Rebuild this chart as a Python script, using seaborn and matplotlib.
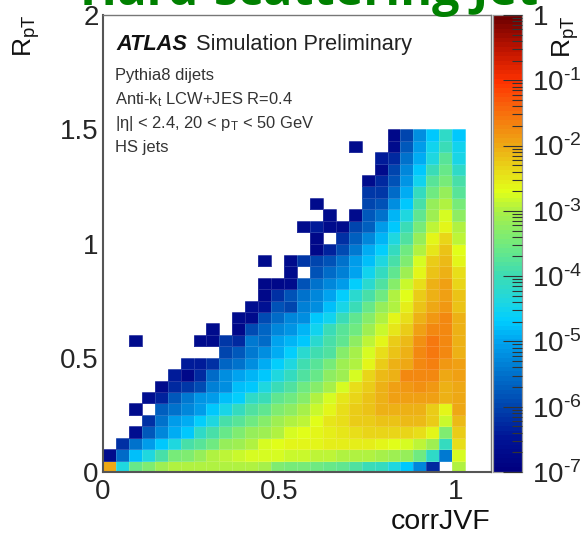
import numpy as np
import pandas as pd
import matplotlib
matplotlib.use("Agg")
import matplotlib.pyplot as plt
from matplotlib.colors import LinearSegmentedColormap, LogNorm
import seaborn as sns

# log10 of the bin content, one list per RpT bin (bottom row first), 28 corrJVF bins
_ = np.nan
row_00 = [-2.0,-4.4,-3.6,-3.4,-3.1,-3.0,-3.0,-3.0,-3.0,-3.0,-3.0,-3.0,-3.05,-3.4,-3.5,-3.5,-3.55,-3.6,-3.7,-3.8,-4.0,-4.1,-4.4,-4.7,-5.3,-6.3,_,-3.0]
row_01 = [-6.7,-5.6,-4.8,-4.4,-3.9,-3.5,-3.4,-3.2,-3.0,-2.9,-2.85,-2.8,-2.75,-2.75,-2.85,-2.85,-2.9,-2.9,-2.95,-2.95,-3.0,-3.05,-3.1,-3.2,-3.55,-4.2,-5.4,-2.75]
row_02 = [_,-6.2,-5.5,-5.1,-4.75,-4.35,-3.9,-3.75,-3.55,-3.2,-3.1,-2.95,-2.8,-2.7,-2.6,-2.6,-2.65,-2.55,-2.55,-2.55,-2.55,-2.65,-2.7,-2.75,-2.9,-3.1,-4.1,-2.4]
row_03 = [_,_,-6.6,-5.8,-5.3,-4.9,-4.7,-4.2,-3.9,-3.6,-3.4,-3.2,-3.1,-2.95,-2.75,-2.7,-2.62,-2.55,-2.5,-2.4,-2.35,-2.35,-2.35,-2.35,-2.4,-2.65,-3.4,-2.3]
row_04 = [_,_,_,-6.2,-5.5,-5.1,-4.95,-4.65,-4.4,-3.9,-3.75,-3.55,-3.3,-3.15,-3.0,-2.9,-2.7,-2.5,-2.4,-2.3,-2.25,-2.2,-2.2,-2.15,-2.15,-2.3,-2.85,-2.15]
row_05 = [_,_,-6.7,_,-5.7,-5.5,-5.3,-5.05,-4.7,-4.45,-4.1,-3.85,-3.7,-3.4,-3.25,-3.05,-2.85,-2.65,-2.4,-2.3,-2.2,-2.1,-2.05,-2.05,-2.05,-2.25,-2.65,-2.0]
row_06 = [_,_,_,-6.6,-6.35,-5.75,-5.4,-5.15,-5.1,-4.8,-4.65,-4.2,-4.0,-3.65,-3.55,-3.3,-3.0,-2.8,-2.5,-2.35,-2.2,-2.1,-1.95,-1.9,-1.9,-1.9,-2.1,-2.0]
row_07 = [_,_,_,_,-6.65,-6.3,-6.1,-5.9,-5.35,-5.2,-4.8,-4.7,-4.4,-4.0,-3.85,-3.55,-3.3,-3.05,-2.8,-2.45,-2.25,-2.1,-1.9,-1.85,-1.8,-1.85,-2.1,-2.0]
row_08 = [_,_,_,_,_,-6.4,-6.75,-6.3,-5.55,-5.2,-5.0,-4.85,-4.7,-4.35,-4.1,-3.85,-3.6,-3.25,-3.1,-2.75,-2.35,-2.15,-2.05,-1.75,-1.7,-1.7,-2.0,-1.95]
row_09 = [_,_,_,_,_,_,-6.4,-6.4,-6.2,-5.65,-5.5,-5.2,-4.9,-4.65,-4.35,-3.95,-3.75,-3.45,-3.15,-2.95,-2.65,-2.3,-2.1,-2.0,-1.7,-1.65,-1.85,-1.95]
row_10 = [_,_,_,_,_,_,_,_,_,-6.0,-5.75,-5.45,-5.2,-4.9,-4.65,-4.25,-3.95,-3.8,-3.3,-3.05,-2.75,-2.45,-2.2,-2.05,-1.75,-1.55,-1.75,-2.05]
row_11 = [_,_,-6.65,_,_,_,_,-6.7,-6.7,-6.1,-6.3,-5.4,-5.55,-5.0,-4.85,-4.7,-4.25,-3.9,-3.65,-3.25,-2.9,-2.6,-2.3,-2.15,-1.8,-1.6,-1.7,-2.05]
row_12 = [_,_,_,_,_,_,_,_,-6.7,_,-6.75,-5.9,-5.65,-5.3,-5.15,-4.85,-4.5,-4.0,-3.75,-3.55,-3.1,-2.85,-2.5,-2.3,-1.95,-1.75,-1.7,-2.1]
row_13 = [_,_,_,_,_,_,_,_,_,_,-6.7,-6.7,-5.9,-5.6,-5.3,-5.2,-4.75,-4.5,-4.0,-3.65,-3.3,-3.0,-2.65,-2.4,-2.1,-1.85,-1.7,-2.1]
row_14 = [_,_,_,_,_,_,_,_,_,_,_,-6.6,-6.55,-5.85,-6.0,-5.35,-5.2,-4.8,-4.45,-4.05,-3.6,-3.2,-2.95,-2.55,-2.2,-2.0,-1.85,-2.2]
row_15 = [_,_,_,_,_,_,_,_,_,_,_,_,-6.75,-6.2,-5.85,-5.5,-5.3,-5.0,-4.65,-4.25,-3.9,-3.55,-3.0,-2.7,-2.3,-2.05,-1.95,-2.2]
row_16 = [_,_,_,_,_,_,_,_,_,_,_,_,-6.75,-6.75,-6.7,-5.85,-5.5,-5.3,-5.05,-4.65,-4.25,-3.8,-3.3,-2.85,-2.4,-2.1,-1.95,-2.35]
row_17 = [_,_,_,_,_,_,_,_,_,_,_,_,_,_,-6.7,_,-5.85,-5.6,-5.35,-5.0,-4.55,-4.1,-3.65,-3.1,-2.6,-2.2,-2.05,-2.45]
row_18 = [_,_,_,_,_,_,_,_,_,_,_,_,-6.7,_,-6.7,-6.1,-6.0,-5.85,-5.5,-5.1,-4.8,-4.35,-3.9,-3.4,-2.75,-2.3,-2.15,-2.6]
row_19 = [_,_,_,_,_,_,_,_,_,_,_,_,_,_,_,_,-6.75,-6.35,-5.9,-5.4,-4.95,-4.65,-4.1,-3.55,-2.95,-2.5,-2.2,-2.7]
row_20 = [_,_,_,_,_,_,_,_,_,_,_,_,_,_,_,_,-6.75,_,-6.2,-5.7,-5.3,-4.85,-4.4,-3.8,-3.2,-2.65,-2.35,-2.9]
row_21 = [_,_,_,_,_,_,_,_,_,_,_,_,_,_,_,-6.7,-6.4,-6.7,-6.7,-6.0,-5.7,-5.05,-4.7,-4.0,-3.45,-2.9,-2.6,-3.0]
row_22 = [_,_,_,_,_,_,_,_,_,_,_,_,_,_,_,_,_,-6.7,_,-6.7,-5.75,-5.5,-4.85,-4.4,-3.7,-3.1,-2.8,-3.25]
row_23 = [_,_,_,_,_,_,_,_,_,_,_,_,_,_,_,_,-6.7,_,_,_,-6.0,-5.85,-5.25,-4.7,-3.9,-3.2,-2.95,-3.5]
row_24 = [_,_,_,_,_,_,_,_,_,_,_,_,_,_,_,_,_,_,_,_,-6.1,-6.1,-5.55,-4.95,-4.1,-3.55,-3.2,-3.75]
row_25 = [_,_,_,_,_,_,_,_,_,_,_,_,_,_,_,_,_,_,_,_,-6.7,-6.3,-5.85,-5.15,-4.5,-3.75,-3.45,-3.9]
row_26 = [_,_,_,_,_,_,_,_,_,_,_,_,_,_,_,_,_,_,_,_,_,-6.7,-6.0,-5.3,-4.7,-4.0,-3.6,-4.15]
row_27 = [_,_,_,_,_,_,_,_,_,_,_,_,_,_,_,_,_,_,_,_,_,-6.4,-6.3,-5.5,-4.95,-4.35,-3.75,-4.45]
row_28 = [_,_,_,_,_,_,_,_,_,_,_,_,_,_,_,_,_,_,_,-6.7,_,_,-6.7,-5.75,-5.05,-4.5,-4.05,-4.55]
row_29 = [_,_,_,_,_,_,_,_,_,_,_,_,_,_,_,_,_,_,_,_,_,_,-6.75,-6.0,-5.25,-4.7,-4.2,-4.7]
rows = [row_00, row_01, row_02, row_03, row_04, row_05, row_06, row_07, row_08, row_09,
        row_10, row_11, row_12, row_13, row_14, row_15, row_16, row_17, row_18, row_19,
        row_20, row_21, row_22, row_23, row_24, row_25, row_26, row_27, row_28, row_29]

x_ticks = [0, 0.5, 1]
x_labels = ["0", "0.5", "1"]
y_ticks = [0, 0.5, 1, 1.5, 2]
y_labels = ["0", "0.5", "1", "1.5", "2"]
z_ticks = [1e-7, 1e-6, 1e-5, 1e-4, 1e-3, 1e-2, 1e-1, 1]
z_labels = [r"10$^{\text{-}7}$", r"10$^{\text{-}6}$", r"10$^{\text{-}5}$", r"10$^{\text{-}4}$",
            r"10$^{\text{-}3}$", r"10$^{\text{-}2}$", r"10$^{\text{-}1}$", "1"]

# palette: log10(z) -> colour
palette_logz = [-7, -6.5, -6, -5.5, -5, -4.7, -4.4, -4, -3.5, -3, -2.7, -2.4, -2, -1.6, -1.3, -1, -0.5, 0]
palette_rgb = [(0, 0, 128), (0, 20, 150), (0, 70, 175), (0, 115, 205), (0, 165, 240), (0, 205, 255),
               (30, 215, 225), (60, 220, 180), (115, 235, 125), (170, 240, 70), (225, 255, 25),
               (232, 222, 25), (238, 170, 20), (245, 125, 15), (250, 90, 10), (255, 50, 0),
               (190, 20, 0), (110, 0, 0)]

X_MAX = 1.1
Y_MAX = 2.0
N_X = 30
N_Y = 40

sns.set_style("white")
plt.rcParams["font.family"] = ["Liberation Sans", "DejaVu Sans"]
plt.rcParams["mathtext.fontset"] = "custom"
plt.rcParams["mathtext.rm"] = "Liberation Sans"
plt.rcParams["mathtext.it"] = "Liberation Sans"
plt.rcParams["mathtext.default"] = "regular"

# full grid of the histogram, empty bins stay NaN
grid = np.full((N_Y, N_X), np.nan)
grid[:len(rows), :len(rows[0])] = 10.0 ** np.array(rows)
df = pd.DataFrame(grid)

stops = [(v + 7) / 7 for v in palette_logz]
cols = [(r / 255, g / 255, b / 255) for r, g, b in palette_rgb]
cmap = LinearSegmentedColormap.from_list("root_rainbow", list(zip(stops, cols)), N=100)

W, H = 585, 536
fig = plt.figure(figsize=(W / 100, H / 100), dpi=100)
ax = fig.add_axes([103 / W, (H - 472) / H, 388 / W, 457 / H])
cax = fig.add_axes([493 / W, (H - 472) / H, 29 / W, 457 / H])

sns.heatmap(df, ax=ax, cbar_ax=cax, cmap=cmap, norm=LogNorm(vmin=1e-7, vmax=1),
            linewidths=0.6, linecolor=(1, 1, 1, 0.15), xticklabels=False, yticklabels=False)
ax.invert_yaxis()
ax.set_axisbelow(False)

dx = X_MAX / N_X
dy = Y_MAX / N_Y
ax.set_xticks([v / dx for v in x_ticks])
ax.set_xticklabels(x_labels, rotation=0)
ax.set_yticks([v / dy for v in y_ticks])
ax.set_yticklabels(y_labels, rotation=0)
ax.set_xticks([v / 10 / dx for v in range(0, 11) if v % 5], minor=True)
ax.set_yticks([v / 10 / dy for v in range(0, 20) if v % 5], minor=True)
ax.tick_params(which="major", direction="in", length=14, width=1, color="#555555", labelsize=20, pad=3)
ax.tick_params(which="minor", direction="in", length=7, width=1, color="#555555")
ax.tick_params(axis="x", which="major", length=11, pad=5)
ax.tick_params(axis="x", which="minor", length=5)

for side in ["left", "bottom"]:
    ax.spines[side].set_visible(True)
    ax.spines[side].set_color("#555555")
    ax.spines[side].set_linewidth(1.5)
for side in ["top", "right"]:
    ax.spines[side].set_visible(True)
    ax.spines[side].set_color("#777777")
    ax.spines[side].set_linewidth(1)

ax.set_xlabel("corrJVF", fontsize=20.5, loc="right", labelpad=3, color="#111111")
ax.set_ylabel("R$_{pT}$", fontsize=19, loc="top", labelpad=13, color="#111111")

cax.set_axisbelow(False)
cax.set_yticks(z_ticks)
cax.set_yticklabels(z_labels)
minor_z = [m * 10.0 ** e for e in range(-7, 0) for m in range(2, 10)]
cax.set_yticks(minor_z, minor=True)
cax.set_yticklabels([], minor=True)
cax.tick_params(which="major", direction="in", length=14, width=0.8, color="#333333", labelsize=20, pad=7.5, right=True)
cax.tick_params(which="minor", direction="in", length=7, width=0.8, color="#333333", right=True)
for s in cax.spines.values():
    s.set_visible(True)
    s.set_color("#999999")
    s.set_linewidth(0.8)

fig.text(566 / W, 1 - 16 / H, "R$_{pT}$", rotation=90, fontsize=19, ha="center", va="top", color="#111111")

# labels inside the frame
fig.text(116 / W, 1 - 50 / H, "ATLAS", fontsize=15.7, style="italic", weight="bold", color="#111111")
fig.text(196 / W, 1 - 50 / H, "Simulation Preliminary", fontsize=15.7, color="#222222")
fig.text(115 / W, 1 - 80 / H, "Pythia8 dijets", fontsize=11.9, color="#333333")
fig.text(115 / W, 1 - 104 / H, "Anti-k$_{t}$ LCW+JES R=0.4", fontsize=11.9, color="#333333")
fig.text(115 / W, 1 - 128 / H, "|η| < 2.4, 20 < p$_{T}$ < 50 GeV", fontsize=11.9, color="#333333")
fig.text(115 / W, 1 - 152 / H, "HS jets", fontsize=11.9, color="#333333")

# title is cut by the top of the picture in the original
fig.text(309 / W, 1 - 5 / H, "Hard-scattering Jet", fontsize=35, weight="bold", color="#008000",
         family="Open Sans", ha="center", va="baseline")

fig.savefig("out.png", dpi=100)
